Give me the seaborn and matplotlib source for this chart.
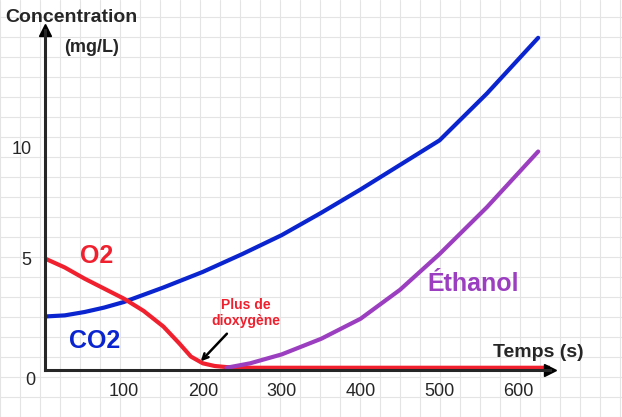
import matplotlib
matplotlib.use("Agg")
import matplotlib.pyplot as plt
import seaborn as sns
import numpy as np

co2_t = [0, 25, 50, 75, 100, 150, 200, 250, 300, 350, 400, 450, 500, 560, 625]
co2_y = [2.4, 2.45, 2.6, 2.8, 3.05, 3.7, 4.4, 5.2, 6.05, 7.05, 8.1, 9.2, 10.3, 12.4, 14.9]
o2_t = [0, 25, 50, 75, 100, 125, 150, 170, 185, 200, 215, 230, 260, 400, 670]
o2_y = [5.0, 4.6, 4.1, 3.65, 3.2, 2.65, 1.95, 1.2, 0.6, 0.3, 0.18, 0.13, 0.1, 0.1, 0.1]
eth_t = [230, 260, 300, 350, 400, 450, 500, 560, 625]
eth_y = [0.1, 0.3, 0.7, 1.4, 2.3, 3.6, 5.2, 7.3, 9.8]

sns.set_style("white")
plt.rcParams['font.family'] = ['Liberation Sans', 'DejaVu Sans']
fig = plt.figure(figsize=(6.22, 4.17), dpi=100)
ax = fig.add_axes([45/622, 47/417, 505/622, 340/417])
ax.set_xlim(0, 640)
ax.set_ylim(0, 15.25)

gax = fig.add_axes([0, 0, 1, 1], zorder=-1)
gax.set_xlim(0, 622); gax.set_ylim(0, 417)
for v in np.arange(0, 622, 20):
    gax.axvline(v, color="#e4e4e4", lw=0.8)
for v in np.arange(0, 417, 20):
    gax.axhline(v, color="#e4e4e4", lw=0.8)
gax.axis("off")
ax.patch.set_alpha(0)

sns.lineplot(x=co2_t, y=co2_y, ax=ax, color="#0a24d0", lw=3)
sns.lineplot(x=o2_t, y=o2_y, ax=ax, color="#f0202e", lw=3)
sns.lineplot(x=eth_t, y=eth_y, ax=ax, color="#9b3fc0", lw=3)

for s in ["top", "right"]:
    ax.spines[s].set_visible(False)
for s in ["left", "bottom"]:
    ax.spines[s].set_linewidth(2.2)
ax.plot(1, 0, ">k", ms=8, transform=ax.transAxes, clip_on=False)
ax.plot(0, 1, "^k", ms=8, transform=ax.transAxes, clip_on=False)

ax.set_xticks([100, 200, 300, 400, 500, 600])
ax.set_yticks([5, 10])
ax.tick_params(axis="both", direction="inout", length=12, width=1.5, labelsize=13)
ax.text(-0.03, -0.03, "0", transform=ax.transAxes, ha="center", va="center", fontsize=13)

fig.text(5/622, 1 - 17/417, "Concentration", ha="left", va="center", fontsize=14, fontweight="bold")
fig.text(64/622, 1 - 47/417, "(mg/L)", ha="left", va="center", fontsize=13, fontweight="bold")
ax.text(625, 0.6, "Temps (s)", ha="center", fontsize=14, fontweight="bold", clip_on=False)

ax.text(65, 4.8, "O2", color="#f0202e", fontsize=18, fontweight="bold", ha="center")
ax.text(63, 1.0, "CO2", color="#0a24d0", fontsize=18, fontweight="bold", ha="center")
ax.text(543, 3.55, "Éthanol", color="#9b3fc0", fontsize=18, fontweight="bold", ha="center")
ax.annotate("Plus de\ndioxygène", xy=(195, 0.3), xytext=(255, 2.0),
            color="#f0202e", fontsize=10, fontweight="bold", ha="center",
            arrowprops=dict(arrowstyle="->", color="black", lw=1.8))

fig.savefig("out.png", dpi=100)
